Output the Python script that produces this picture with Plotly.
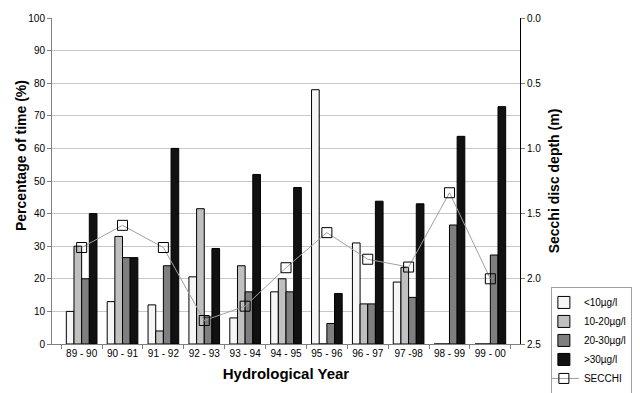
import plotly.graph_objects as go

years = ["89 - 90", "90 - 91", "91 - 92", "92 - 93", "93 - 94", "94 - 95",
         "95 - 96", "96 - 97", "97 -98", "98 - 99", "99 - 00"]
lt10 = [10, 13, 12, 20.6, 8, 16, 78, 31, 19, 0, 0]
b10_20 = [30, 33, 4, 41.5, 24, 20, 0, 12.3, 23.5, 0, 0]
b20_30 = [20, 26.5, 24, 8.3, 16, 16, 6.3, 12.3, 14.3, 36.5, 27.3]
gt30 = [40, 26.5, 60, 29.3, 52, 48, 15.5, 43.8, 43, 63.7, 72.8]
secchi = [1.76, 1.59, 1.76, 2.32, 2.21, 1.915, 1.646, 1.85, 1.91, 1.34, 2.00]

fig = go.Figure()
series = [("<10µg/l", lt10, "#f6f6f6"),
          ("10-20µg/l", b10_20, "#c0c0c0"),
          ("20-30µg/l", b20_30, "#7f7f7f"),
          (">30µg/l", gt30, "#111111")]
for name, vals, col in series:
    fig.add_trace(go.Bar(x=years, y=vals, name=name, marker_color=col,
                         marker_line=dict(color="#000000", width=1)))

fig.add_trace(go.Scatter(x=years, y=secchi, name="SECCHI", yaxis="y2",
                         mode="lines+markers",
                         line=dict(color="#a0a0a0", width=1),
                         marker=dict(symbol="square-open", size=10,
                                     color="#000000", line=dict(width=1))))

font = "Liberation Sans, Arial, sans-serif"
fig.update_layout(
    width=632, height=385,
    margin=dict(l=44, r=120, t=10, b=49, autoexpand=False),
    paper_bgcolor="white", plot_bgcolor="white",
    barmode="group", bargap=0.25, bargroupgap=0,
    font=dict(family=font, size=10, color="#000000"),
    xaxis=dict(type="category", tickson="boundaries", ticks="outside",
               ticklen=4, tickcolor="#808080", showline=True,
               linecolor="#808080", tickfont=dict(size=10), tickangle=0,
               automargin=False,
               title=dict(text="<b>Hydrological Year</b>",
                          font=dict(size=15), standoff=10)),
    yaxis=dict(range=[0, 100], dtick=10, showgrid=True,
               gridcolor="#c8c8c8", showline=True, linecolor="#808080",
               ticks="outside", ticklen=4, tickcolor="#808080",
               tickfont=dict(size=10), zeroline=False, automargin=False),
    yaxis2=dict(overlaying="y", side="right", range=[2.5, 0], dtick=0.5,
                tickformat=".1f", showgrid=False, showline=True,
                linecolor="#000000", ticks="outside", ticklen=4,
                tickcolor="#808080", tickfont=dict(size=10), zeroline=False,
                automargin=False,
                title=dict(text="<b>Secchi disc depth (m)</b>",
                           font=dict(size=14), standoff=8)),
    legend=dict(x=1.066, xanchor="left", y=0.175, yanchor="top",
                bordercolor="#a0a0a0", borderwidth=1, bgcolor="white",
                font=dict(size=10), itemwidth=30, tracegroupgap=0,
                indentation=-8),
    annotations=[dict(text="<b>Percentage of time (%)</b>", textangle=-90,
                      xref="paper", yref="paper", x=-0.066, y=0.577,
                      xanchor="center", yanchor="middle", showarrow=False,
                      font=dict(size=14))],
)

fig.write_html("out.html")
